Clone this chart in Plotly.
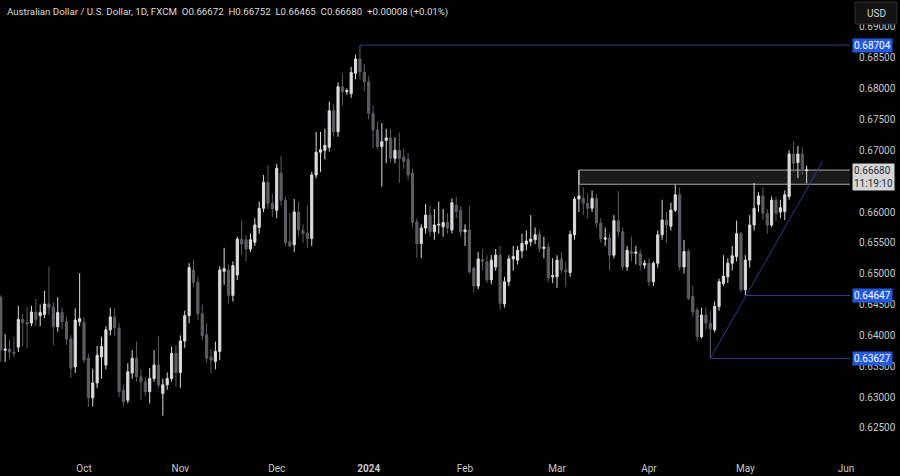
import pandas as pd
import plotly.graph_objects as go

# ---------------- data ----------------
dates = [d for d in pd.bdate_range("2023-09-05", "2024-05-21") if d != pd.Timestamp("2024-01-01")]

open_ = [
    .6462, .6376, .6378, .6373, .6381, .6426, .6421, .6420, .6438, .6432,
    .6434, .6451, .6446, .6414, .6437, .6422, .6394, .6349, .6422, .6421,
    .6363, .6299, .6323, .6365, .6352, .6409, .6430, .6412, .6311, .6295,
    .6339, .6363, .6333, .6325, .6309, .6330, .6352, .6306, .6320, .6330,
    .6371, .6340, .6391, .6432, .6506, .6486, .6435, .6401, .6365, .6358,
    .6374, .6504, .6506, .6465, .6498, .6556, .6555, .6540, .6551, .6575,
    .6606, .6648, .6614, .6603, .6663, .6619, .6552, .6547, .6600, .6570,
    .6566, .6557, .6660, .6697, .6700, .6705, .6764, .6730, .6803, .6795,
    .6792, .6825, .6848, .6827, .6811, .6760, .6733, .6706, .6716, .6720,
    .6687, .6700, .6689, .6685, .6663, .6584, .6549, .6574, .6595, .6568,
    .6579, .6576, .6583, .6571, .6611, .6603, .6568, .6571, .6509, .6480,
    .6523, .6519, .6490, .6511, .6530, .6451, .6487, .6524, .6522, .6537,
    .6548, .6552, .6555, .6564, .6541, .6543, .6495, .6495, .6524, .6506,
    .6502, .6563, .6621, .6622, .6614, .6606, .6622, .6582, .6556, .6558,
    .6530, .6586, .6568, .6511, .6536, .6533, .6533, .6514, .6517, .6487,
    .6517, .6563, .6587, .6577, .6603, .6628, .6511, .6536, .6463, .6441,
    .6398, .6433, .6420, .6409, .6447, .6484, .6495, .6517, .6528, .6565,
    .6474, .6522, .6579, .6612, .6626, .6598, .6579, .6619, .6600, .6601,
    .6625, .6694, .6680, .6694, .66672,
]
high = [
    .6465, .6402, .6393, .6398, .6448, .6435, .6446, .6448, .6459, .6450,
    .6472, .6511, .6454, .6462, .6445, .6430, .6400, .6444, .6501, .6430,
    .6370, .6346, .6383, .6398, .6415, .6445, .6444, .6420, .6320, .6355,
    .6376, .6390, .6345, .6332, .6347, .6376, .6398, .6330, .6340, .6382,
    .6384, .6400, .6440, .6517, .6522, .6495, .6450, .6420, .6378, .6390,
    .6512, .6542, .6515, .6520, .6560, .6587, .6563, .6565, .6590, .6617,
    .6660, .6676, .6630, .6678, .6691, .6625, .6598, .6621, .6617, .6580,
    .6611, .6665, .6730, .6730, .6735, .6779, .6775, .6810, .6825, .6800,
    .6835, .6855, .68704, .6840, .6820, .6773, .6747, .6744, .6735, .6734,
    .6721, .6729, .6703, .6695, .6670, .6590, .6580, .6613, .6610, .6605,
    .6617, .6605, .6598, .6622, .6625, .6610, .6580, .6610, .6512, .6535,
    .6540, .6530, .6530, .6540, .6545, .6495, .6530, .6545, .6545, .6565,
    .6570, .6595, .6575, .6570, .6560, .6550, .6525, .6530, .6535, .6520,
    .6570, .6625, .6668, .6640, .6630, .6635, .6630, .6590, .6575, .6565,
    .6595, .6634, .6575, .6545, .6560, .6545, .6540, .6522, .6525, .6520,
    .6570, .6620, .6600, .6615, .6644, .6640, .6555, .6540, .6480, .6445,
    .6445, .6445, .6440, .6455, .6492, .6530, .6525, .6545, .6586, .6568,
    .6530, .6595, .6647, .6632, .6640, .6605, .6625, .6625, .6620, .6635,
    .6700, .6714, .6707, .6705, .66752,
]
low = [
    .6357, .6357, .6361, .6365, .6373, .6382, .6379, .6415, .6415, .6415,
    .6428, .6433, .6384, .6406, .6410, .6385, .6331, .6339, .6415, .6355,
    .6284, .6285, .6315, .6330, .6345, .6400, .6399, .6300, .6285, .6290,
    .6330, .6325, .6295, .6302, .6290, .6325, .6315, .6270, .6312, .6325,
    .6317, .6315, .6380, .6420, .6478, .6425, .6392, .6355, .6339, .6345,
    .6360, .6482, .6452, .6455, .6490, .6530, .6520, .6535, .6545, .6565,
    .6600, .6605, .6592, .6590, .6610, .6545, .6543, .6535, .6560, .6550,
    .6542, .6545, .6655, .6665, .6685, .6698, .6722, .6722, .6773, .6790,
    .6785, .6815, .6815, .6795, .6750, .6703, .6701, .6641, .6679, .6680,
    .6679, .6647, .6670, .6652, .6575, .6525, .6525, .6565, .6560, .6555,
    .6565, .6560, .6565, .6565, .6590, .6560, .6545, .6500, .6469, .6475,
    .6505, .6485, .6483, .6505, .6442, .6445, .6480, .6505, .6515, .6525,
    .6538, .6545, .6548, .6535, .6525, .6486, .6485, .6477, .6500, .6478,
    .6495, .6555, .6600, .6595, .6590, .6600, .6575, .6550, .6545, .6505,
    .6525, .6560, .6505, .6505, .6520, .6515, .6505, .6508, .6480, .6480,
    .6510, .6555, .6550, .6570, .6600, .6505, .6500, .6457, .6430, .6390,
    .6395, .6410, .63627, .6405, .6440, .6480, .6485, .6505, .6520, .6470,
    .64647, .6510, .6570, .6600, .6587, .6565, .6575, .6585, .6590, .6587,
    .6620, .6665, .6655, .6660, .66465,
]
close = [
    .6376, .6378, .6373, .6371, .6426, .6421, .6418, .6438, .6426, .6437,
    .6451, .6445, .6414, .6437, .6422, .6394, .6347, .6425, .6427, .6360,
    .6299, .6323, .6368, .6382, .6409, .6430, .6412, .6309, .6293, .6341,
    .6363, .6333, .6325, .6309, .6330, .6352, .6320, .6320, .6330, .6371,
    .6340, .6391, .6432, .6510, .6486, .6435, .6400, .6363, .6360, .6374,
    .6506, .6508, .6465, .6513, .6556, .6548, .6540, .6555, .6579, .6606,
    .6648, .6614, .6605, .6671, .6619, .6550, .6545, .6600, .6571, .6565,
    .6557, .6660, .6697, .6701, .6708, .6764, .6730, .6803, .6795, .6797,
    .6826, .6848, .6827, .6811, .6760, .6733, .6706, .6714, .6720, .6687,
    .6700, .6687, .6682, .6660, .6583, .6549, .6574, .6595, .6568, .6579,
    .6580, .6583, .6574, .6615, .6601, .6568, .6571, .6503, .6480, .6524,
    .6520, .6490, .6522, .6530, .6452, .6487, .6524, .6528, .6538, .6549,
    .6553, .6556, .6563, .6541, .6543, .6493, .6497, .6522, .6506, .6503,
    .6564, .6621, .6626, .6614, .6606, .6622, .6582, .6557, .6558, .6530,
    .6586, .6568, .6511, .6538, .6533, .6535, .6514, .6517, .6487, .6517,
    .6563, .6587, .6579, .6603, .6628, .6511, .6536, .6460, .6438, .6398,
    .6433, .6420, .6411, .6447, .6487, .6496, .6517, .6529, .6565, .6474,
    .6522, .6579, .6606, .6626, .6598, .6579, .6619, .6598, .6607, .6628,
    .6694, .6679, .6694, .6667, .66680,
]
assert len(dates) == len(open_) == len(high) == len(low) == len(close)

month_ticks = ["2023-10-02", "2023-11-01", "2023-12-01", "2024-01-02", "2024-02-01",
               "2024-03-01", "2024-04-01", "2024-05-01", "2024-06-03"]
month_labels = ["Oct", "Nov", "Dec", "<b>2024</b>", "Feb", "Mar", "Apr", "May", "Jun"]

# price-scale labels (0.66500 is hidden behind the last-price tag in the reference)
price_ticks = [0.625, 0.630, 0.635, 0.640, 0.645, 0.650, 0.655, 0.660,
               0.670, 0.675, 0.680, 0.685, 0.690]

# drawn objects (levels from the reference's annotations)
level_prices = [0.68704, 0.64647, 0.63627]
level_starts = ["2023-12-28", "2024-05-01", "2024-04-19"]
zone_low, zone_high, zone_start = 0.6645, 0.6668, "2024-03-08"
trend_start = ("2024-04-19", 0.63627)
trend_end = ("2024-05-24 16:48", 0.6683)
last_price, countdown = "0.66680", "11:19:10"
title_text = ("Australian Dollar / U.S. Dollar, 1D, FXCM\u00a0\u00a0O0.66672\u00a0\u00a0H0.66752"
              "\u00a0\u00a0L0.66465\u00a0\u00a0C0.66680\u00a0\u00a0+0.00008 (+0.01%)")

# ---------------- figure ----------------
W, H = 900, 476
XR = 850 / W
Y0 = 21 / H
FONT = "Roboto"
UP, DN = "#dcdcdc", "#5d5e64"

fig = go.Figure(go.Candlestick(
    x=dates, open=open_, high=high, low=low, close=close,
    increasing=dict(line=dict(color=UP, width=1), fillcolor=UP),
    decreasing=dict(line=dict(color=DN, width=1), fillcolor=DN),
    showlegend=False, hoverinfo="skip",
))

far_right = "2024-06-20"
shapes = [dict(type="rect", xref="x", yref="y", x0=zone_start, x1=far_right,
               y0=zone_low, y1=zone_high, fillcolor="#1a1a1a",
               line=dict(color="#a8a8a8", width=1), layer="below")]
for p, s in zip(level_prices, level_starts):
    shapes.append(dict(type="line", xref="x", yref="y", x0=s, x1=far_right, y0=p, y1=p,
                       line=dict(color="#2c3a8c", width=1), layer="above"))
shapes.append(dict(type="line", xref="x", yref="y", x0=trend_start[0], y0=trend_start[1],
                   x1=trend_end[0], y1=trend_end[1], line=dict(color="#2c3a8c", width=1),
                   layer="above"))
# USD button
bx0, bx1, by0, by1 = 855 / W, 897 / W, 1 - 24 / H, 1 - 2 / H
shapes.append(dict(type="rect", xref="paper", yref="paper", x0=bx0, x1=bx1, y0=by0, y1=by1,
                   fillcolor="#131313", line=dict(color="#2e2e2e", width=1), layer="above"))

annotations = [
    dict(xref="paper", yref="paper", x=5 / W, y=1 - 12 / H, xanchor="left", yanchor="middle",
         text=title_text, showarrow=False, font=dict(family=FONT, size=9.7, color="#dcdcdc")),
    dict(xref="paper", yref="paper", x=876 / W, y=1 - 13 / H, xanchor="center", yanchor="middle",
         text="USD", showarrow=False, font=dict(family=FONT, size=10, color="#d1d4dc")),
]
for p in level_prices:
    annotations.append(dict(xref="paper", yref="y", x=852 / W, y=p, xanchor="left",
                            yanchor="middle", text=f"{p:.5f}", showarrow=False,
                            bgcolor="#2358e0", borderpad=1,
                            font=dict(family=FONT, size=10, color="#ffffff")))
annotations.append(dict(xref="paper", yref="y", x=852 / W, y=0.66794,
                        xanchor="left", yanchor="top",
                        text=f"{last_price}<br>{countdown}", showarrow=False,
                        bgcolor="#d6d6d6", borderpad=1, align="left",
                        font=dict(family=FONT, size=10, color="#2a2e39")))

fig.update_layout(
    width=W, height=H, margin=dict(l=0, r=0, t=0, b=0),
    paper_bgcolor="#000000", plot_bgcolor="#000000",
    shapes=shapes, annotations=annotations, showlegend=False,
    xaxis=dict(type="date", domain=[0, XR], range=["2023-09-04 19:40", "2024-06-03 21:30"],
               rangebreaks=[dict(bounds=["sat", "mon"]), dict(values=["2024-01-01"])],
               rangeslider=dict(visible=False), showgrid=False, zeroline=False,
               showline=False, ticks="", tickmode="array", tickvals=month_ticks,
               ticktext=month_labels, ticklabelstandoff=6,
               tickfont=dict(family=FONT, size=10, color="#c8c8c8"),
               automargin=False, fixedrange=True),
    yaxis=dict(side="right", anchor="x", domain=[Y0, 1], range=[0.62062, 0.69436],
               tickmode="array", tickvals=price_ticks,
               ticktext=[f"{v:.5f}" for v in price_ticks],
               showgrid=False, zeroline=False,
               showline=False, ticks="", ticklabelstandoff=8,
               tickfont=dict(family=FONT, size=10, color="#c8c8c8"),
               automargin=False, fixedrange=True),
)

fig.write_html(
    "out.html",
    config={"displayModeBar": False, "staticPlot": True},
    post_script="document.body.style.margin='0';document.body.style.background='#000';"
                "document.body.style.overflow='hidden';",
)
